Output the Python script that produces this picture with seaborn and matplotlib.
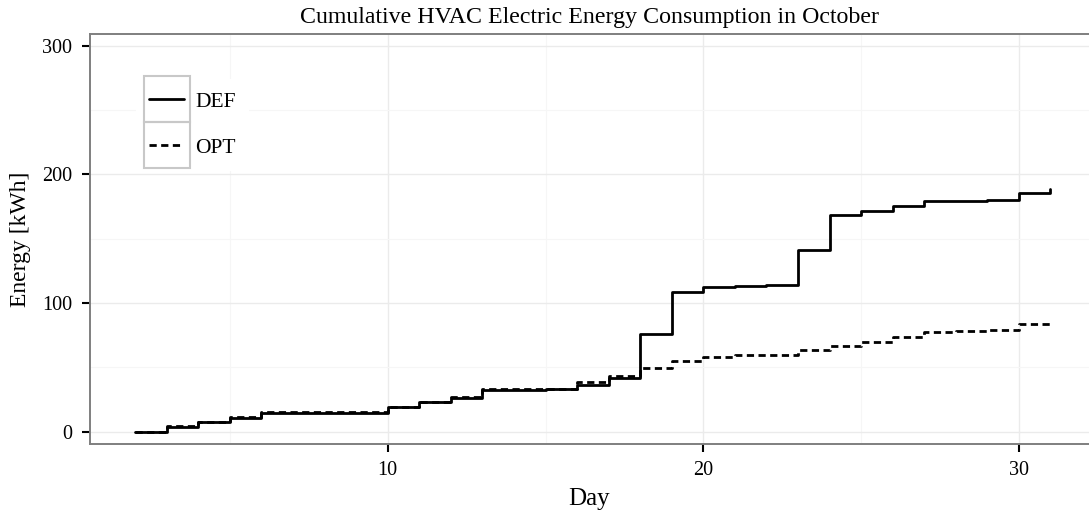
import numpy as np
import pandas as pd
import matplotlib
matplotlib.use("Agg")
import matplotlib.pyplot as plt
from matplotlib.patches import Rectangle
from matplotlib.ticker import MultipleLocator
import seaborn as sns

# ---- data ----
days = list(range(2, 32))
def_energy = [0, 4.0, 7.3, 10.8, 14.7, 14.8, 14.8, 14.9, 19.4, 23.3, 26.6, 32.8, 32.8, 32.9,
              36.2, 41.6, 76.0, 108.8, 112.6, 113.2, 114.0, 141.3, 168.2, 171.6, 175.2,
              179.1, 179.4, 180.4, 185.3, 188.4]
opt_energy = [0, 4.2, 7.8, 11.3, 15.3, 15.4, 15.5, 15.6, 19.6, 23.5, 26.9, 33.0, 33.1, 33.2,
              38.5, 43.6, 49.2, 54.6, 58.4, 59.5, 60.0, 63.7, 67.0, 70.0, 73.9,
              77.5, 78.5, 78.7, 83.5, 85.0]
series_names = ["DEF", "OPT"]
title = "Cumulative HVAC Electric Energy Consumption in October"
x_label = "Day"
y_label = "Energy [kWh]"

df = pd.DataFrame({
    "Day": days * 2,
    "Energy": def_energy + opt_energy,
    "Series": [series_names[0]] * len(days) + [series_names[1]] * len(days),
})

sns.set_theme(style="white")
plt.rcParams["font.family"] = ["Liberation Serif", "DejaVu Serif"]
plt.rcParams["text.color"] = "black"
plt.rcParams["axes.labelcolor"] = "black"

W, H = 1089, 516
fig = plt.figure(figsize=(W / 100, H / 100), dpi=100)
ax = fig.add_axes([90 / W, 1 - 444 / H, (W - 90) / W, (444 - 34) / H])

sns.lineplot(data=df, x="Day", y="Energy", style="Series", color="black",
             dashes={"DEF": "", "OPT": (2.6, 1.6)}, linewidth=2.0,
             drawstyle="steps-post", ax=ax, legend=True)

ax.set_xlim(0.567, 32.22)
ax.set_ylim(-9.5, 309.0)
ax.xaxis.set_major_locator(MultipleLocator(10))
ax.xaxis.set_minor_locator(MultipleLocator(5))
ax.yaxis.set_major_locator(MultipleLocator(100))
ax.yaxis.set_minor_locator(MultipleLocator(50))
ax.grid(True, which="major", color="#ebebeb", linewidth=1.0)
ax.grid(True, which="minor", color="#f6f6f6", linewidth=0.8)
ax.set_axisbelow(True)
for s in ax.spines.values():
    s.set_color("#7f7f7f")
    s.set_linewidth(1.4)
ax.spines["right"].set_visible(False)
ax.tick_params(which="major", direction="out", length=6, width=1.5, color="black",
               labelsize=14.5, labelcolor="black")
ax.tick_params(axis="x", which="major", bottom=True, pad=6.5)
ax.tick_params(axis="y", which="major", left=True, pad=7)
ax.tick_params(which="minor", length=0, bottom=False, left=False)

ax.set_title(title, fontsize=17.2, pad=8, color="black")
ax.set_xlabel(x_label, fontsize=18, labelpad=5.5, color="black")
ax.set_ylabel(y_label, fontsize=17, labelpad=8, color="black")

leg = ax.legend(title=None, loc="upper left",
                bbox_to_anchor=(136 / W, 1 - 79 / H), bbox_transform=fig.transFigure,
                frameon=True, fancybox=False, facecolor="white", edgecolor="white",
                framealpha=1, fontsize=15.5, handlelength=1.65, handletextpad=0.5,
                labelspacing=1.2, borderpad=0.6, borderaxespad=0)
leg.get_frame().set_linewidth(0)
for t in leg.get_texts():
    t.set_color("black")

fig.canvas.draw()
for h in leg.legend_handles:
    bb = h.get_window_extent()
    cx = (bb.x0 + bb.x1) / 2
    cy = (bb.y0 + bb.y1) / 2
    rect = Rectangle((cx - 23, cy - 23), 46, 46, transform=None, fill=False,
                     edgecolor="#c8c8c8", linewidth=1.5, zorder=10)
    fig.patches.append(rect)

fig.savefig("out.png", dpi=100)
